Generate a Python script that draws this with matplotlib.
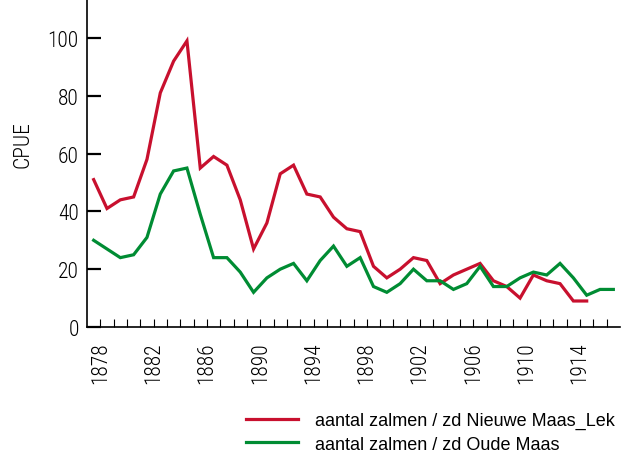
import matplotlib
matplotlib.use("Agg")
import matplotlib.pyplot as plt
from matplotlib.lines import Line2D
from matplotlib import font_manager

names = {f.name for f in font_manager.fontManager.ttflist}
fam = [n for n in ["Roboto Condensed", "DejaVu Sans Condensed", "DejaVu Sans"] if n in names]
plt.rcParams["font.family"] = fam
plt.rcParams["font.weight"] = "light"
plt.rcParams["axes.labelweight"] = "light"

start_year = 1877.5
red_label = "aantal zalmen / zd Nieuwe Maas_Lek"
green_label = "aantal zalmen / zd Oude Maas"
red_values = [51, 41, 44, 45, 58, 81, 92, 99, 55, 59, 56, 44, 27, 36, 53, 56, 46, 45,
              38, 34, 33, 21, 17, 20, 24, 23, 15, 18, 20, 22, 16, 14, 10, 18, 16, 15, 9, 9]
green_values = [30, 27, 24, 25, 31, 46, 54, 55, 39, 24, 24, 19, 12, 17, 20, 22, 16, 23,
                28, 21, 24, 14, 12, 15, 20, 16, 16, 13, 15, 21, 14, 14, 17, 19, 18, 22,
                17, 11, 13, 13]
tick_years = list(range(1878, 1917))
label_years = list(range(1878, 1917, 4))
y_ticks = [0, 20, 40, 60, 80, 100]

red_x = [start_year + i for i in range(len(red_values))]
green_x = [start_year + i for i in range(len(green_values))]

RED = "#C8102E"
GREEN = "#008C33"

fig = plt.figure(figsize=(6.3, 4.56), dpi=100)
ax = fig.add_axes([87 / 630, 1 - 328 / 456, (620 - 87) / 630, 328 / 456])
ax.plot(red_x, red_values, color=RED, lw=2.3, solid_joinstyle="miter")
ax.plot(green_x, green_values, color=GREEN, lw=2.3, solid_joinstyle="miter")

ax.set_xlim(1877, 1917)
ax.set_ylim(0, 328 / 2.89)
ax.spines["top"].set_visible(False)
ax.spines["right"].set_visible(False)
ax.spines["left"].set_linewidth(1.2)
ax.spines["bottom"].set_linewidth(1.2)

ax.set_yticks(y_ticks)
ax.set_yticklabels([str(v) for v in y_ticks], fontsize=15.5)
ax.tick_params(axis="y", direction="in", length=10, width=1.6, pad=6)

ax.set_xticks(tick_years, minor=True)
ax.set_xticks(label_years)
ax.set_xticklabels([str(y) for y in label_years], rotation=90, fontsize=15.5)
ax.tick_params(axis="x", which="both", direction="in", length=5.5, width=0.8, pad=10)

ax.set_ylabel("CPUE", fontsize=15.5, fontweight="light")
ax.yaxis.set_label_coords(-0.1, 0.56)

handles = [Line2D([], [], color=RED, lw=2.3), Line2D([], [], color=GREEN, lw=2.3)]
fig.legend(handles, [red_label, green_label], loc="upper left",
           bbox_to_anchor=(246 / 630, 1 - 413 / 456), frameon=False,
           prop={"family": ["Liberation Sans", "DejaVu Sans"], "size": 13},
           handlelength=2.9, handletextpad=0.9, labelspacing=0.36, borderpad=0,
           borderaxespad=0)

fig.savefig("out.png", dpi=100)
